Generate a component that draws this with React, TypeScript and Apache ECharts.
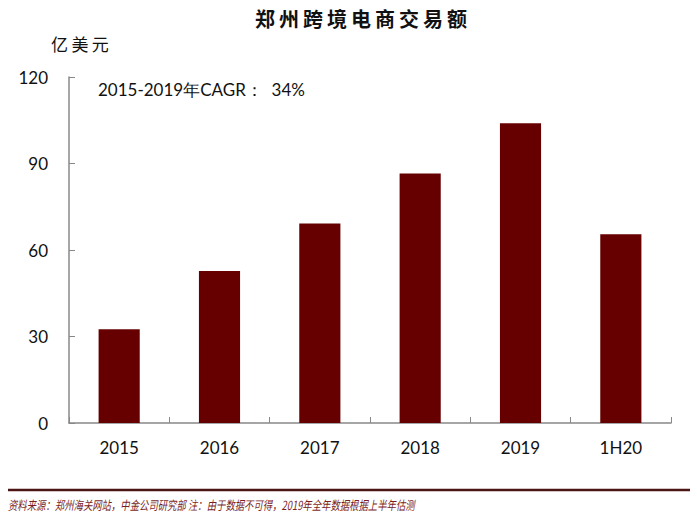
import React, { useEffect, useRef } from "react";
import * as echarts from "echarts";

const categories = ["2015", "2016", "2017", "2018", "2019", "1H20"];
const values = [32.5, 52.7, 69.2, 86.5, 104, 65.5];
const yTicks = { min: 0, max: 120, interval: 30 };
const titleText = "郑州跨境电商交易额";
const unitText = "亿美元";
const cagrText = "2015-2019年CAGR：  34%";
const sourceText = "资料来源：郑州海关网站，中金公司研究部 注：由于数据不可得，2019年全年数据根据上半年估测";

const spaced = (s: string) => s.split("").join("\u2009");

export default function App() {
  const ref = useRef<HTMLDivElement>(null);
  useEffect(() => {
    if (!ref.current) return;
    const chart = echarts.init(ref.current, null, { renderer: "svg" });
    chart.setOption({
      animation: false,
      backgroundColor: "#ffffff",
      grid: { left: 69, right: 26, top: 77, bottom: 96 },
      xAxis: {
        type: "category",
        data: categories,
        axisLine: { lineStyle: { color: "#888888", width: 1.5 } },
        axisTick: { show: true, inside: true, length: 6, lineStyle: { color: "#888888" } },
        axisLabel: { color: "#111", fontSize: 17, fontFamily: "Lato", margin: 16 },
      },
      yAxis: {
        type: "value",
        min: yTicks.min,
        max: yTicks.max,
        interval: yTicks.interval,
        splitLine: { show: false },
        axisLine: { show: true, lineStyle: { color: "#888888", width: 1.5 } },
        axisTick: { show: true, inside: true, length: 6, lineStyle: { color: "#888888" } },
        axisLabel: { color: "#111", fontSize: 17, fontFamily: "Lato", margin: 21 },
      },
      series: [
        {
          type: "bar",
          data: values,
          barWidth: "41%",
          itemStyle: { color: "#660000" },
        },
      ],
      graphic: [
        {
          type: "text",
          x: 361,
          y: 8,
          style: {
            text: spaced(titleText),
            fontSize: 20,
            fontWeight: "bold",
            fontFamily: "Noto Sans CJK SC",
            fill: "#111",
            align: "center",
          },
        },
        {
          type: "text",
          left: 51,
          top: 35,
          style: { text: spaced(unitText), fontSize: 17, fontFamily: "Noto Sans CJK SC", fill: "#111" },
        },
        {
          type: "text",
          left: 98,
          top: 81,
          style: { text: cagrText, fontSize: 17, fontFamily: "Lato", fill: "#111" },
        },
        {
          type: "line",
          shape: { x1: 8, y1: 490, x2: 690, y2: 490 },
          style: { stroke: "#4d1414", lineWidth: 2.5 },
        },
        {
          type: "text",
          x: 8,
          y: 498,
          scaleX: 0.75,
          style: {
            text: sourceText,
            fontSize: 12.5,
            fontStyle: "italic",
            fontFamily: "Noto Sans CJK SC",
            fill: "#7a1f1f",
          },
        },
      ],
    });
    return () => chart.dispose();
  }, []);
  return (
    <div
      ref={ref}
      style={{ position: "fixed", left: 0, top: 0, width: 697, height: 519 }}
    />
  );
}
